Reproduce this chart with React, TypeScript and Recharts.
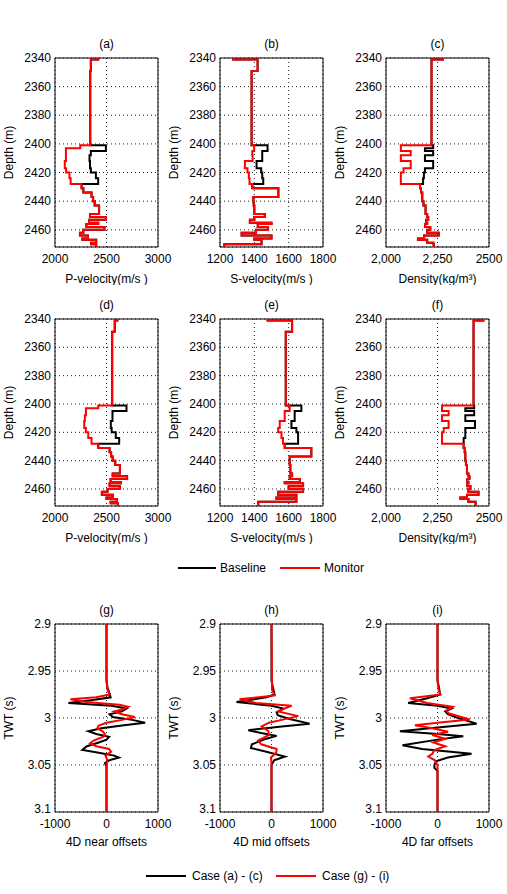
import React from "react";
import { ScatterChart, Scatter, XAxis, YAxis, CartesianGrid, ReferenceArea } from "recharts";

// layer tops (m) shared by all log panels, last layer ends at depthBottom
const depthTops = [2340, 2341, 2349, 2401, 2403, 2405, 2408, 2412, 2417, 2420, 2424, 2428, 2431, 2434, 2437, 2440, 2443, 2449, 2451, 2453, 2455, 2456, 2458, 2460, 2462, 2464, 2466, 2467, 2469, 2470];
const depthBottom = 2472;
const resStart = 3; // first reservoir layer (2401 m), baseline differs for 8 layers

// row 1 — monitor logs and baseline reservoir values
const pVel1Mon = [2420, 2348, 2342, 2245, 2106, 2106, 2106, 2095, 2108, 2140, 2152, 2258, 2275, 2355, 2370, 2385, 2428, 2340, 2494, 2330, 2420, 2305, 2480, 2275, 2242, 2320, 2265, 2400, 2350, 2400];
const pVel1Res = [2494, 2494, 2348, 2335, 2340, 2348, 2397, 2419];
const sVel1Mon = [1277, 1419, 1384, 1399, 1399, 1388, 1390, 1345, 1360, 1368, 1372, 1388, 1540, 1540, 1394, 1396, 1400, 1461, 1400, 1374, 1500, 1420, 1480, 1410, 1326, 1500, 1400, 1442, 1442, 1225];
const sVel1Res = [1477, 1477, 1446, 1446, 1413, 1440, 1446, 1452];
const rho1Mon = [2277, 2221, 2221, 2072, 2072, 2120, 2072, 2120, 2085, 2072, 2072, 2165, 2170, 2176, 2176, 2182, 2192, 2200, 2205, 2195, 2200, 2190, 2215, 2200, 2256, 2185, 2155, 2200, 2230, 2232];
const rho1Res = [2229, 2189, 2229, 2189, 2229, 2189, 2184, 2180];

// row 2
const pVel2Mon = [2605, 2580, 2555, 2420, 2300, 2300, 2290, 2284, 2300, 2323, 2355, 2420, 2530, 2545, 2560, 2585, 2630, 2560, 2700, 2540, 2640, 2530, 2630, 2510, 2455, 2560, 2500, 2600, 2540, 2610];
const pVel2Res = [2694, 2694, 2558, 2558, 2542, 2550, 2590, 2623];
const sVel2Mon = [1477, 1620, 1583, 1606, 1606, 1577, 1577, 1548, 1539, 1558, 1567, 1577, 1732, 1732, 1606, 1606, 1610, 1620, 1606, 1665, 1577, 1684, 1600, 1684, 1539, 1645, 1529, 1645, 1423, 1423];
const sVel2Res = [1674, 1674, 1635, 1635, 1616, 1645, 1655, 1655];
const rho2Mon = [2473, 2425, 2425, 2272, 2272, 2304, 2272, 2304, 2280, 2272, 2272, 2377, 2382, 2385, 2385, 2388, 2393, 2400, 2405, 2395, 2400, 2395, 2410, 2400, 2449, 2393, 2361, 2400, 2435, 2435];
const rho2Res = [2428, 2385, 2428, 2385, 2432, 2385, 2385, 2377];

// row 3 — 4D difference traces (time s, amplitude)
const nearBlackT = [2.9, 2.96, 2.968, 2.974, 2.978, 2.981, 2.984, 2.987, 2.99, 2.993, 2.996, 2.999, 3.002, 3.005, 3.008, 3.011, 3.014, 3.017, 3.02, 3.023, 3.026, 3.03, 3.034, 3.037, 3.04, 3.042, 3.045, 3.048, 3.052, 3.1];
const nearBlackA = [0, 0, 20, 60, 80, -300, -740, 100, 390, 300, 60, 120, 500, 750, 300, -100, -350, -200, 50, 0, -150, -380, -470, -150, 150, 240, 50, -30, 0, 0];
const nearRedT = [2.9, 2.96, 2.97, 2.975, 2.978, 2.98, 2.983, 2.986, 2.988, 2.991, 2.993, 2.996, 2.999, 3.002, 3.005, 3.008, 3.011, 3.014, 3.017, 3.02, 3.024, 3.027, 3.03, 3.033, 3.036, 3.04, 3.045, 3.05, 3.1];
const nearRedA = [0, 0, 20, 60, -200, -700, -400, 250, 420, 300, 150, 300, 550, 300, 0, -150, -180, -80, -30, -60, -250, -320, -200, 50, 90, -20, 20, 0, 0];

const midBlackT = [2.9, 2.96, 2.968, 2.975, 2.978, 2.983, 2.987, 2.99, 2.994, 2.997, 3.001, 3.006, 3.009, 3.013, 3.016, 3.019, 3.022, 3.028, 3.032, 3.036, 3.041, 3.045, 3.05, 3.1];
const midBlackA = [0, 0, 30, 60, -100, -680, 0, 230, 100, 120, 350, 740, 200, -450, -200, 100, -100, -380, -400, -100, 260, 50, 0, 0];
const midRedT = [2.9, 2.97, 2.976, 2.98, 2.984, 2.987, 2.99, 2.993, 2.998, 3.002, 3.005, 3.009, 3.014, 3.018, 3.024, 3.028, 3.033, 3.037, 3.042, 3.048, 3.1];
const midRedA = [0, 10, 60, -620, -300, 390, 250, 130, 520, 200, -50, -190, -60, -50, -260, -200, 100, 90, -10, 0, 0];

const farBlackT = [2.9, 2.96, 2.968, 2.975, 2.979, 2.984, 2.987, 2.99, 2.993, 2.996, 3.0, 3.006, 3.01, 3.014, 3.017, 3.0195, 3.023, 3.029, 3.033, 3.038, 3.042, 3.046, 3.05, 3.053, 3.056, 3.1];
const farBlackA = [0, 0, 30, 50, -200, -570, 0, 270, 150, 200, 400, 760, 0, -730, 0, 500, 0, -680, -300, 660, 200, -30, -60, -60, 0, 0];
const farRedT = [2.9, 2.96, 2.97, 2.975, 2.979, 2.984, 2.988, 2.992, 2.995, 3.0016, 3.005, 3.0076, 3.011, 3.0147, 3.018, 3.022, 3.026, 3.03, 3.034, 3.038, 3.041, 3.045, 3.05, 3.1];
const farRedA = [0, 0, 20, 60, -535, -200, 300, 180, 210, 626, 0, -439, -100, 206, -100, 150, -80, 150, -60, -100, -180, -50, 0, 0];

const depthTicks = [2340, 2360, 2380, 2400, 2420, 2440, 2460];
const twtTicks = [2.9, 2.95, 3, 3.05, 3.1];
const pTicks = [2000, 2500, 3000];
const sTicks = [1200, 1400, 1600, 1800];
const rhoTicks = [2000, 2250, 2500];
const rhoTickText = ["2,000", "2,250", "2500"];
const ampTicks = [-1000, 0, 1000];

function stepLog(values: number[]) {
  const pts: { v: number; d: number }[] = [];
  values.forEach((v, i) => {
    const bot = i + 1 < depthTops.length ? depthTops[i + 1] : depthBottom;
    pts.push({ v, d: depthTops[i] }, { v, d: bot });
  });
  return pts;
}

function withRes(mon: number[], res: number[]) {
  const out = mon.slice();
  res.forEach((v, i) => (out[resStart + i] = v));
  return out;
}

function trace(t: number[], a: number[]) {
  return t.map((tt, i) => ({ v: a[i], d: tt }));
}

const YW = 52;
const XH = 38;
const RM = 18;
const TM = 10;
const FONT = '"Liberation Sans", Arial, sans-serif';

function Panel(props: any) {
  const { x, y, w, h, title, xDomain, xTicks, xFmt, xLabel, xLabelOff, yDomain, yTicks, yLabel, black, red } = props;
  const yTick = ({ x: tx, y: ty, payload }: any) => (
    <text x={tx} y={ty} dy={payload.value === 3.1 ? -3 : 0} textAnchor="end" dominantBaseline="central" fill="#000" fontSize={12}>
      {String(payload.value)}
    </text>
  );
  return (
    <div style={{ position: "absolute", left: x - YW, top: y - TM }}>
      <div style={{ position: "absolute", left: YW, width: w, top: TM - 21, textAlign: "center", fontSize: 12, lineHeight: "14px" }}>
        {title}
      </div>
      <ScatterChart width={YW + w + RM} height={TM + h + XH} margin={{ top: TM, right: RM, bottom: 0, left: 0 }}>
        <CartesianGrid strokeDasharray="1 3" stroke="#222" />
        <XAxis
          type="number" dataKey="v" domain={xDomain} ticks={xTicks} tickFormatter={xFmt} interval={0}
          height={XH} tickSize={0} tickMargin={7} axisLine={false}
          tick={{ fill: "#000", fontSize: 12 }}
          label={{ value: xLabel, position: "insideBottom", offset: xLabelOff, fill: "#000", fontSize: 12 }}
        />
        <YAxis
          type="number" dataKey="d" domain={yDomain} ticks={yTicks} reversed interval={0}
          width={YW} tickSize={0} tickMargin={4} axisLine={false}
          tick={yTick}
          label={{
            content: () => (
              <text x={6} y={TM + h / 2} transform={`rotate(-90 6 ${TM + h / 2})`} textAnchor="middle" dominantBaseline="central" fill="#000" fontSize={12}>
                {yLabel}
              </text>
            ),
          }}
        />
        <ReferenceArea x1={xDomain[0]} x2={xDomain[1]} y1={yDomain[0]} y2={yDomain[1]} fill="none" stroke="#000" strokeWidth={1} />
        <Scatter data={black} line={{ stroke: "#000", strokeWidth: 2 }} lineType="joint" shape={() => <g />} isAnimationActive={false} />
        <Scatter data={red} line={{ stroke: "#ff0000", strokeWidth: 2 }} lineType="joint" shape={() => <g />} isAnimationActive={false} />
      </ScatterChart>
    </div>
  );
}

const cols = [55, 220, 386];
const W = 103;

export default function App() {
  const depthDomain = [2340, depthBottom];
  const rhoFmt = (v: number) => rhoTickText[rhoTicks.indexOf(v)] ?? String(v);
  const logRow = (top: number, h: number, titles: string[], data: number[][][]) => (
    <>
      <Panel x={cols[0]} y={top} w={W} h={h} title={titles[0]} xDomain={[2000, 3000]} xTicks={pTicks} xLabel="P-velocity(m/s )" xLabelOff={2}
        yDomain={depthDomain} yTicks={depthTicks} yLabel="Depth (m)"
        black={stepLog(withRes(data[0][0], data[0][1]))} red={stepLog(data[0][0])} />
      <Panel x={cols[1]} y={top} w={W} h={h} title={titles[1]} xDomain={[1200, 1800]} xTicks={sTicks} xLabel="S-velocity(m/s )" xLabelOff={2}
        yDomain={depthDomain} yTicks={depthTicks} yLabel="Depth (m)"
        black={stepLog(withRes(data[1][0], data[1][1]))} red={stepLog(data[1][0])} />
      <Panel x={cols[2]} y={top} w={W} h={h} title={titles[2]} xDomain={[2000, 2500]} xTicks={rhoTicks} xFmt={rhoFmt} xLabel="Density(kg/m³)" xLabelOff={2}
        yDomain={depthDomain} yTicks={depthTicks} yLabel="Depth (m)"
        black={stepLog(withRes(data[2][0], data[2][1]))} red={stepLog(data[2][0])} />
    </>
  );

  const traces = [
    { title: "(g)", label: "4D near offsets", black: trace(nearBlackT, nearBlackA), red: trace(nearRedT, nearRedA) },
    { title: "(h)", label: "4D mid offsets", black: trace(midBlackT, midBlackA), red: trace(midRedT, midRedA) },
    { title: "(i)", label: "4D far offsets", black: trace(farBlackT, farBlackA), red: trace(farRedT, farRedA) },
  ];

  return (
    <div style={{ position: "absolute", left: 0, top: 0, width: 507, height: 894, background: "#fff", fontFamily: FONT, color: "#000" }}>
      {logRow(58, 189, ["(a)", "(b)", "(c)"], [[pVel1Mon, pVel1Res], [sVel1Mon, sVel1Res], [rho1Mon, rho1Res]])}
      {logRow(319, 187, ["(d)", "(e)", "(f)"], [[pVel2Mon, pVel2Res], [sVel2Mon, sVel2Res], [rho2Mon, rho2Res]])}
      {traces.map((t, i) => (
        <Panel key={t.title} x={cols[i]} y={624} w={W} h={188} title={t.title} xDomain={[-1000, 1000]} xTicks={ampTicks} xLabel={t.label} xLabelOff={4}
          yDomain={[2.9, 3.1]} yTicks={twtTicks} yLabel="TWT (s)" black={t.black} red={t.red} />
      ))}
      <svg width={507} height={894} style={{ position: "absolute", left: 0, top: 0, pointerEvents: "none" }}>
        <g fontSize={12} fill="#000" fontFamily={FONT}>
          <line x1={178} x2={216} y1={568} y2={568} stroke="#000" strokeWidth={2} />
          <text x={220} y={568} dominantBaseline="central">Baseline</text>
          <line x1={280} x2={320} y1={568} y2={568} stroke="#ff0000" strokeWidth={2} />
          <text x={324} y={568} dominantBaseline="central">Monitor</text>
          <line x1={146} x2={186} y1={876} y2={876} stroke="#000" strokeWidth={2} />
          <text x={192} y={876} dominantBaseline="central">Case (a) - (c)</text>
          <line x1={276} x2={316} y1={876} y2={876} stroke="#ff0000" strokeWidth={2} />
          <text x={322} y={876} dominantBaseline="central">Case (g) - (i)</text>
        </g>
      </svg>
    </div>
  );
}
